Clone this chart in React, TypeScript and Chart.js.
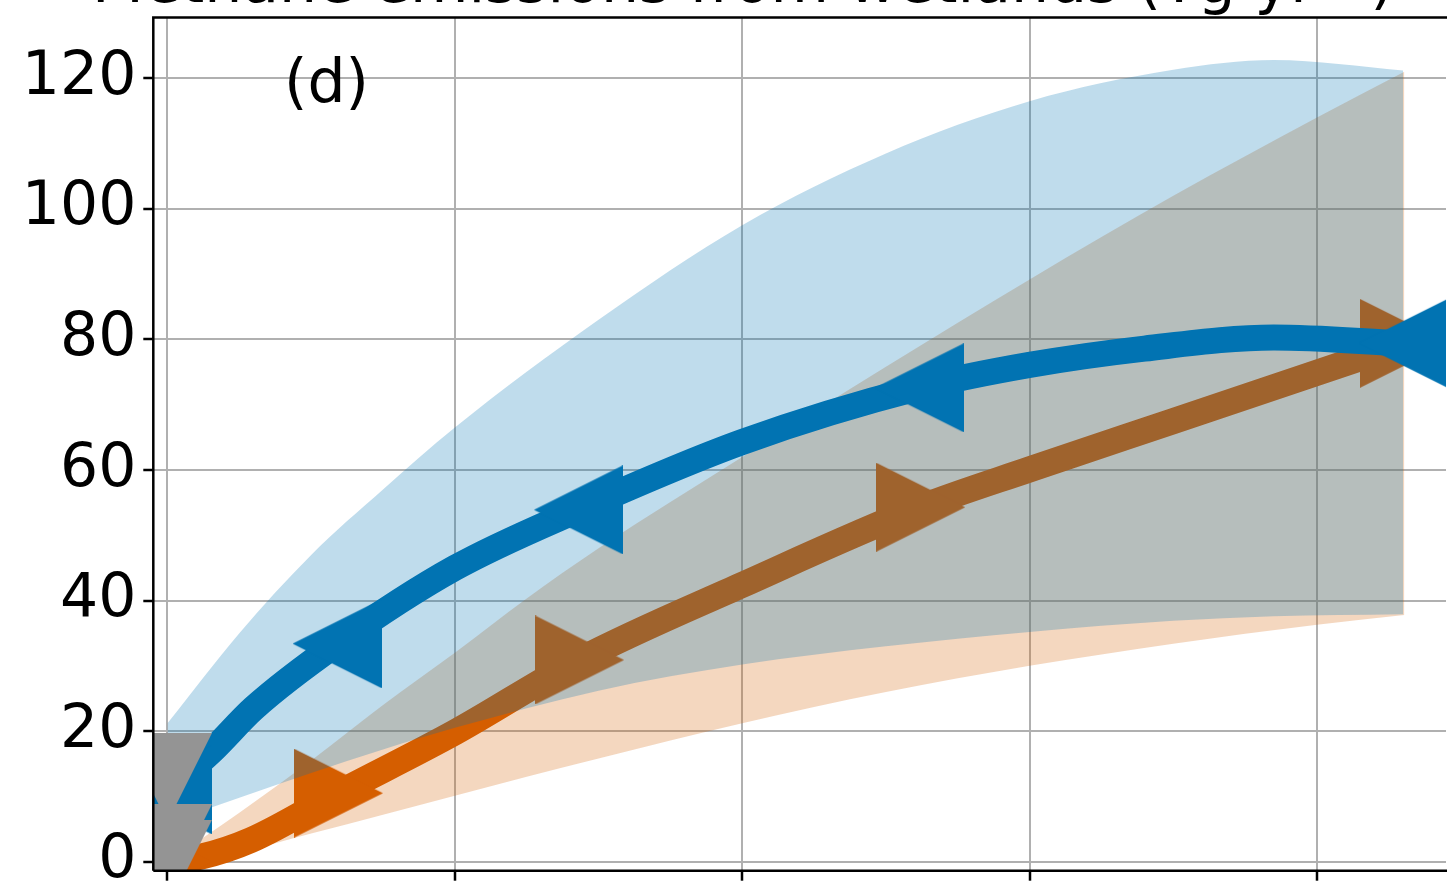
import React, { useEffect, useRef } from "react";
import { Chart, registerables } from "chart.js";

Chart.register(...registerables);

// ---- text ----
const TITLE = "Methane emissions from wetlands (Tg yr⁻¹)";
const PANEL_LABEL = "(d)";

// ---- axes ----
const xTicks = [0, 1, 2, 3, 4];
const yTicks = [0, 20, 40, 60, 80, 100, 120];
const X_MIN = -0.0494;
const X_MAX = 4.449;
const Y_MIN = -1.38;
const Y_MAX = 129.32;

// ---- blue series (left-pointing triangles) ----
const blueMarkerX = [0, 0.59, 1.43, 2.616, 4.3];
const blueMarkerY = [11, 33.4, 53.9, 72.6, 79.4];
const blueLineX = [0, 0.155, 0.3, 0.59, 1.0, 1.43, 2.0, 2.616, 3.0, 3.4, 3.85, 4.3];
const blueLineY = [11, 17, 23.5, 33.4, 45, 53.9, 64.3, 72.6, 76.1, 78.6, 80.3, 79.4];
const blueBandX = [0, 0.25, 0.5, 0.75, 1.0, 1.5, 2.0, 2.5, 3.0, 3.5, 3.85, 4.3];
const blueBandUpper = [21.2, 35, 47, 57, 66.5, 83, 97.5, 108.5, 116.5, 121.3, 122.8, 121.2];
const blueBandLower = [6, 9.8, 13.6, 17.2, 20.5, 26.2, 30.2, 33.0, 35.2, 36.9, 37.6, 37.9];

// ---- orange series (right-pointing triangles) ----
const orangeMarkerX = [0, 0.595, 1.434, 2.621, 4.304];
const orangeMarkerY = [0, 10.5, 30.9, 54.3, 79.4];
const orangeLineX = [0, 0.12, 0.29, 0.595, 1.0, 1.434, 2.0, 2.621, 3.0, 3.5, 4.304];
const orangeLineY = [0, 0.8, 3.3, 10.5, 19.8, 30.9, 42.4, 54.3, 60.1, 67.5, 79.4];
const orangeBandX = [0, 0.25, 0.5, 0.75, 1.0, 1.25, 1.5, 2.0, 2.5, 3.0, 3.5, 4.0, 4.304];
const orangeBandUpper = [0, 7.5, 15.5, 24, 32, 40.3, 48, 62, 75.8, 89.2, 102, 114, 121];
const orangeBandLower = [0, 1.5, 4.3, 7.2, 10.1, 13.0, 15.8, 21.2, 26.0, 30.0, 33.4, 36.3, 37.8];

// ---- gray markers (down-pointing triangles) ----
const grayMarkerX = [0, 0, 0];
const grayMarkerY = [12.9, 2.0, -0.4];

const BLUE = "#0173B2";
const ORANGE = "#D55E00";
const GRAY = "#949494";
const BLUE_BAND = "rgba(1,115,178,0.25)";
const ORANGE_BAND = "rgba(213,94,0,0.25)";

function pts(xs: number[], ys: number[]) {
  return xs.map((x, i) => ({ x, y: ys[i] }));
}

function triangle(dir: "left" | "right" | "down", color: string, size = 89) {
  const c = document.createElement("canvas");
  c.width = size;
  c.height = size;
  const g = c.getContext("2d")!;
  g.fillStyle = color;
  g.beginPath();
  if (dir === "left") {
    g.moveTo(0, size / 2);
    g.lineTo(size, 0);
    g.lineTo(size, size);
  } else if (dir === "right") {
    g.moveTo(size, size / 2);
    g.lineTo(0, 0);
    g.lineTo(0, size);
  } else {
    g.moveTo(0, 0);
    g.lineTo(size, 0);
    g.lineTo(size / 2, size);
  }
  g.closePath();
  g.fill();
  return c;
}

const decorPlugin = {
  id: "decor",
  afterDatasetsDraw(chart: any) {
    const { ctx, chartArea: a } = chart;
    ctx.save();
    ctx.strokeStyle = "#000";
    ctx.lineWidth = 2.5;
    ctx.beginPath();
    ctx.moveTo(a.left, a.bottom);
    ctx.lineTo(a.left, a.top);
    ctx.lineTo(a.right + 30, a.top);
    ctx.moveTo(a.left, a.bottom);
    ctx.lineTo(a.right + 30, a.bottom);
    ctx.stroke();
    ctx.fillStyle = "#000";
    ctx.font = '60px "DejaVu Sans"';
    ctx.textAlign = "left";
    ctx.textBaseline = "alphabetic";
    ctx.fillText(PANEL_LABEL, 284, 102);
    ctx.fillText(TITLE, 92, 1.5);
    ctx.restore();
  },
};

export default function App() {
  const ref = useRef<HTMLCanvasElement>(null);
  useEffect(() => {
    const canvas = ref.current!;
    const lineDs = (label: string, xs: number[], ys: number[], color: string, order: number) => ({
      label,
      data: pts(xs, ys),
      borderColor: color,
      backgroundColor: color,
      borderWidth: 26,
      pointRadius: 0,
      showLine: true,
      fill: false,
      cubicInterpolationMode: "monotone",
      borderJoinStyle: "round",
      order,
      clip: 0,
    });
    const markerDs = (label: string, xs: number[], ys: number[], img: HTMLCanvasElement, order: number) => ({
      label,
      data: pts(xs, ys),
      showLine: false,
      pointStyle: img,
      pointRadius: 10,
      pointBorderWidth: 0,
      borderWidth: 0,
      fill: false,
      order,
      clip: 0,
    });
    const bandDs = (label: string, xs: number[], ys: number[], color: string, order: number, fill: any) => ({
      label,
      data: pts(xs, ys),
      borderWidth: 0,
      borderColor: "rgba(0,0,0,0)",
      backgroundColor: color,
      pointRadius: 0,
      showLine: true,
      fill,
      cubicInterpolationMode: "monotone",
      order,
      clip: 0,
    });

    const chart = new Chart(canvas, {
      type: "line",
      data: {
        datasets: [
          markerDs("gray", grayMarkerX, grayMarkerY, triangle("down", GRAY), 0) as any,
          markerDs("blue markers", blueMarkerX, blueMarkerY, triangle("left", BLUE), 1),
          lineDs("blue", blueLineX, blueLineY, BLUE, 2),
          bandDs("blue upper", blueBandX, blueBandUpper, BLUE_BAND, 3, 4),
          bandDs("blue lower", blueBandX, blueBandLower, BLUE_BAND, 4, false),
          markerDs("orange markers", orangeMarkerX, orangeMarkerY, triangle("right", ORANGE), 5),
          lineDs("orange", orangeLineX, orangeLineY, ORANGE, 6),
          bandDs("orange upper", orangeBandX, orangeBandUpper, ORANGE_BAND, 7, 8),
          bandDs("orange lower", orangeBandX, orangeBandLower, ORANGE_BAND, 8, false),
        ],
      },
      options: {
        responsive: false,
        devicePixelRatio: 1,
        animation: false,
        events: [],
        layout: { padding: { top: 17.5, left: 0, right: 0, bottom: 0 } },
        plugins: {
          legend: { display: false },
          tooltip: { enabled: false },
          title: { display: false },
          filler: { propagate: false },
        },
        scales: {
          x: {
            type: "linear",
            min: X_MIN,
            max: X_MAX,
            afterBuildTicks: (scale: any) => {
              scale.ticks = xTicks.map((v) => ({ value: v }));
            },
            afterFit: (scale: any) => {
              scale.height = 14.3;
              scale.paddingLeft = 0;
              scale.paddingRight = 0;
              scale.paddingTop = 0;
              scale.paddingBottom = 0;
            },
            ticks: { display: false, includeBounds: false },
            grid: {
              color: "#b0b0b0",
              lineWidth: 2,
              drawTicks: true,
              tickLength: 10,
              tickColor: "#000",
              tickWidth: 2.5,
            },
            border: { display: false },
          },
          y: {
            type: "linear",
            min: Y_MIN,
            max: Y_MAX,
            afterBuildTicks: (scale: any) => {
              scale.ticks = yTicks.map((v) => ({ value: v }));
            },
            afterFit: (scale: any) => {
              scale.width = 153.3;
              scale.paddingLeft = 0;
              scale.paddingRight = 0;
              scale.paddingTop = 0;
              scale.paddingBottom = 0;
            },
            ticks: {
              includeBounds: false,
              padding: 7,
              color: "#000",
              font: { family: "DejaVu Sans", size: 60 },
              callback: (v: any) => String(v),
            },
            grid: {
              color: "#b0b0b0",
              lineWidth: 2,
              drawTicks: true,
              tickLength: 10,
              tickColor: "#000",
              tickWidth: 2.5,
            },
            border: { display: false },
          },
        },
      } as any,
      plugins: [decorPlugin],
    });
    return () => chart.destroy();
  }, []);

  return (
    <div
      style={{
        position: "fixed",
        left: 0,
        top: 0,
        width: 1447,
        height: 885,
        overflow: "hidden",
        background: "#fff",
      }}
    >
      <canvas ref={ref} width={1456} height={885} style={{ display: "block" }} />
    </div>
  );
}
